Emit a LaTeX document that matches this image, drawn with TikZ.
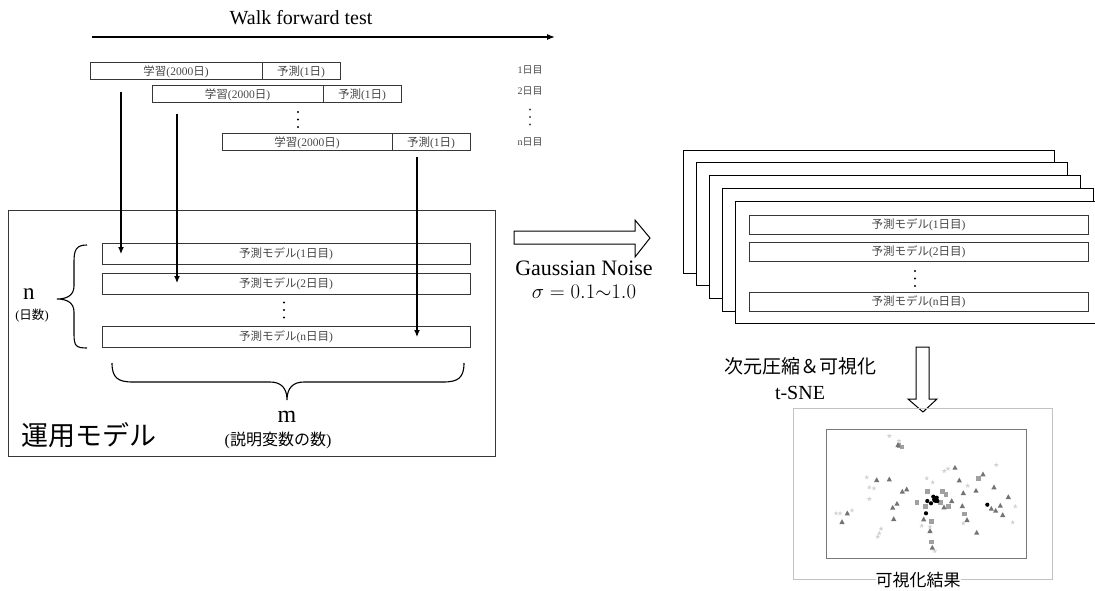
\documentclass[tikz,border=0pt]{standalone}
\usepackage{fontspec}
\setmainfont{Liberation Serif}
\newfontfamily\jpfont{Noto Sans CJK JP}
\newcommand{\jp}[1]{{\jpfont #1}}
\newcommand{\fsz}[1]{\fontsize{#1}{#1}\selectfont}
\usepackage{tikz}
\usetikzlibrary{arrows.meta,calc,positioning}
\definecolor{boxgray}{RGB}{55,55,55}
\definecolor{labelgray}{RGB}{70,70,70}
\definecolor{resultgray}{RGB}{195,195,195}
\definecolor{plotgray}{RGB}{120,120,120}
\definecolor{tsnetri}{RGB}{115,115,115}
\definecolor{tsnesq}{RGB}{160,160,160}
\definecolor{tsnestar}{RGB}{210,210,210}

\begin{document}
\begin{tikzpicture}[x=1pt, y=-1pt,
  every node/.style={inner sep=0pt, outer sep=0pt},
  wfbox/.style={draw=boxgray, line width=1pt, minimum height=17, anchor=west, font=\fsz{11.5}, text=labelgray},
  mdrow/.style={draw=boxgray, line width=1pt, minimum width=368, minimum height=21, font=\fsz{11.5}, text=labelgray},
  frrow/.style={draw=boxgray, line width=1pt, minimum width=339, minimum height=19, font=\fsz{11.5}, text=labelgray},
  daylbl/.style={font=\fsz{10}, text=labelgray},
  dotcol/.pic={\fill (0,-7.5) circle (1.2) (0,0) circle (1.2) (0,7.5) circle (1.2);},
  tri/.pic={\fill[tsnetri] (0,-2.8) -- (2.6,2) -- (-2.6,2) -- cycle;},
  sq/.pic={\fill[tsnesq] (-2.3,-2.3) rectangle (2.3,2.3);},
  st/.pic={\fill[tsnestar] (-90:2.6) -- (54:2.6) -- (198:2.6) -- (342:2.6) -- (126:2.6) -- cycle;},
  dot/.pic={\fill[black] (0,0) circle (2.1);},
  fwd/.style={-{Latex[length=7pt,width=6pt]}, line width=1.2pt}]
  \useasboundingbox (0,0) rectangle (1095,591);

  \node[font=\fsz{20}] (wftitle) at (301,18) {Walk forward test};
  \coordinate (wfstart) at (92,37);
  \coordinate (wfend) at (555,37);
  \draw[-{Latex[length=8pt,width=6pt]}, line width=1.2pt] (wfstart) -- (wfend);

  \node[wfbox, minimum width=172] (train1) at (90,71.5) {\jp{学習}(2000\jp{日})};
  \node[wfbox, minimum width=78, right=0pt of train1] (test1) {\jp{予測}(1\jp{日})};
  \node[wfbox, minimum width=171] (train2) at (152,94.5) {\jp{学習}(2000\jp{日})};
  \node[wfbox, minimum width=78, right=0pt of train2] (test2) {\jp{予測}(1\jp{日})};
  \node[wfbox, minimum width=170] (train3) at (222,142.5) {\jp{学習}(2000\jp{日})};
  \node[wfbox, minimum width=78, right=0pt of train3] (test3) {\jp{予測}(1\jp{日})};
  \pic at (298,119.5) {dotcol};

  \node[daylbl] (day1) at (530,70) {1\jp{日目}};
  \node[daylbl] (day2) at (530,91) {2\jp{日目}};
  \pic[labelgray] at (530,117) {dotcol};
  \node[daylbl] (dayn) at (530,142) {n\jp{日目}};

  \node[draw=boxgray, line width=1pt, minimum width=487, minimum height=246] (opbox) at (251.5,333) {};
  \node[mdrow] (model1) at (286,253.5) {\jp{予測モデル}(1\jp{日目})};
  \node[mdrow] (model2) at (286,283.5) {\jp{予測モデル}(2\jp{日目})};
  \pic at (284,310) {dotcol};
  \node[mdrow] (modeln) at (286,336.5) {\jp{予測モデル}(n\jp{日目})};

  \coordinate (a1s) at (121,92);
  \coordinate (a1e) at (121,254);
  \coordinate (a2s) at (177,114);
  \coordinate (a2e) at (177,283);
  \coordinate (a3s) at (417,157);
  \coordinate (a3e) at (417,337);
  \draw[fwd] (a1s) -- (a1e);
  \draw[fwd] (a2s) -- (a2e);
  \draw[fwd] (a3s) -- (a3e);

  \draw[line width=1.1pt] (87,245) .. controls (76,245) and (74,250) .. (74,262) -- (74,286)
    .. controls (74,296) and (66,299) .. (57,299) .. controls (66,299) and (74,302) .. (74,312)
    -- (74,334) .. controls (74,346) and (76,348) .. (87,348);
  \node[font=\fsz{23}] (nlbl) at (29,294) {n};
  \node[font=\fsz{12.5}] (nsub) at (32,316) {(\jp{日数})};

  \draw[line width=1.1pt] (112,363) .. controls (112,378) and (118,382) .. (133,382) -- (270,382)
    .. controls (281,382) and (287,388) .. (287,400) .. controls (287,388) and (293,382) .. (304,382)
    -- (443,382) .. controls (458,382) and (464,378) .. (464,363);
  \node[font=\fsz{24}] (mlbl) at (287,417) {m};
  \node[font=\fsz{16}] (msub) at (278,440) {(\jp{説明変数の数})};
  \node[font=\fsz{27}\jpfont, anchor=west] (oplbl) at (21,435) {運用モデル};

  \draw[line width=1pt] (514,231) -- (635,231) -- (635,220) -- (650,238) -- (635,257) -- (635,244) -- (514,244) -- cycle;
  \node[font=\fsz{22}] (noise) at (584,268) {Gaussian Noise};
  \node[font=\fsz{22}] (sigma) at (584,292) {$\sigma = 0.1{\sim}1.0$};

  \foreach \i in {0,...,3}
    \draw[fill=white, line width=0.9pt] ({683+13*\i},{150+12.7*\i}) rectangle ++(371,123);
  \fill[white] (735,201) rectangle (1095,323);
  \draw[line width=0.9pt] (1095,201) -- (735,201) -- (735,323) -- (1095,323);
  \node[frrow] (frame1) at (918.5,224.5) {\jp{予測モデル}(1\jp{日目})};
  \node[frrow] (frame2) at (918.5,251.5) {\jp{予測モデル}(2\jp{日目})};
  \pic at (915,278.5) {dotcol};
  \node[frrow] (framen) at (918.5,301.5) {\jp{予測モデル}(n\jp{日目})};

  \node[font=\fsz{19}\jpfont] (dimred) at (800,366) {次元圧縮＆可視化};
  \node[font=\fsz{20}] (tsne) at (800,393) {t-SNE};
  \draw[line width=1pt] (916,347) -- (929,347) -- (929,399) -- (937,399) -- (923,412) -- (908,399) -- (916,399) -- cycle;

  \node[draw=resultgray, line width=0.8pt, minimum width=259, minimum height=171] (result) at (922.5,493.5) {};
  \node[draw=plotgray, line width=0.9pt, minimum width=200, minimum height=129] (tsneplot) at (926,493.5) {};
  \foreach \p in {(889.3,436),(866.7,477.3),(869.3,487.3),(874,488.3),(869.3,499),(836,513.3),(840,513.3),(852,510.3),(881,528.7),(879.3,533.3),(877.7,536.7),(921.7,525.7),(926.7,478.3),(932.7,482.3),(944.3,471),(948,468.7),(967.7,485.7),(996.3,465),(1015.3,506.3),(1012.7,522.3),(963.3,523.3),(934.7,551),(930,526.7),(899,441)}
    \pic at \p {st};
  \foreach \p in {(899,445.7),(902,447),(917,502.3),(927.3,491.7),(942.7,491.7),(946,494.3),(948.3,506.7),(964.3,514),(978.3,478.3),(931.3,521.7),(931.3,542),(925.3,506.7),(940.7,502.3)}
    \pic at \p {sq};
  \foreach \p in {(876.7,480),(889.3,479.3),(902.3,491.7),(906.7,489.3),(892.7,507.7),(897,503.7),(893.7,519),(842,522),(847.3,513.3),(923.7,519.3),(930,531),(932.3,547.7),(955,467.7),(959.3,480.3),(963.3,493),(976,490.7),(983,474.3),(994,487.3),(1008.3,497),(1000.3,505.7),(991.3,508.7),(995.7,510.7),(1002.7,515),(962.3,506),(967,520),(976.7,532.7),(944,507.3),(951.7,501),(898,445)}
    \pic at \p {tri};
  \foreach \p in {(926,513.3),(927.3,501),(931,503.3),(933.3,496.7),(936.7,497.7),(937.3,501),(987.3,504.7)}
    \pic at \p {dot};
  \fill (935.3,499.7) circle (3.2);
  \node[font=\fsz{17}\jpfont, fill=white] (resultlbl) at (918,580) {可視化結果};
\end{tikzpicture}
\end{document}
